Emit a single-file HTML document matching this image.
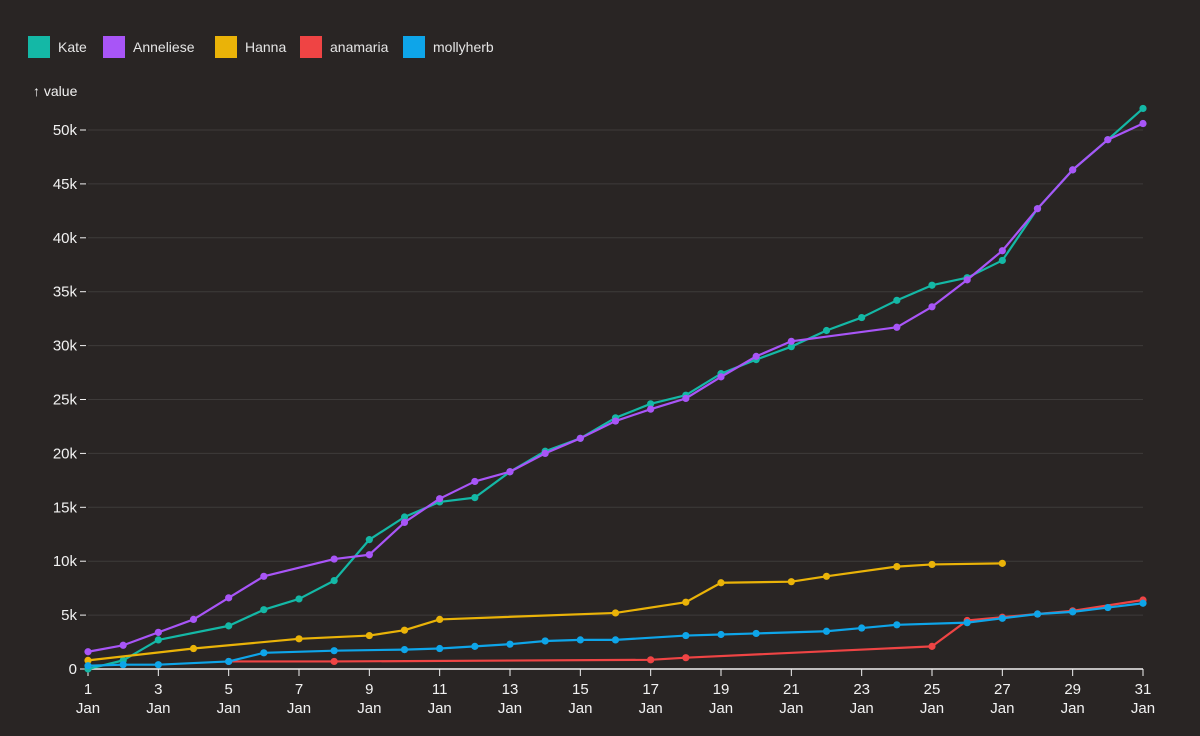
<!DOCTYPE html>
<html><head><meta charset="utf-8"><style>
html,body{margin:0;padding:0;background:#292524;}
svg{display:block;font-family:"Liberation Sans",sans-serif;}
</style></head><body>
<svg id="chart" width="1200" height="736" viewBox="0 0 1200 736" xmlns="http://www.w3.org/2000/svg">
<rect width="1200" height="736" fill="#292524"/>
<g id="legend"></g>
<text x="33" y="96" fill="#f2f2f2" font-size="14">↑ value</text>
<g id="grid"></g><g id="axes"></g><g id="series"></g>
</svg>
<script>
const days = [];
for (let d = 1; d <= 31; d++) days.push(d);
const seriesNames = ["Kate","Anneliese","Hanna","anamaria","mollyherb"];
const seriesColors = ["#14b8a6","#a855f7","#eab308","#ef4444","#0ea5e9"];
const kateDays = [1,2,3,5,6,7,8,9,10,11,12,13,14,15,16,17,18,19,20,21,22,23,24,25,26,27,28,29,30,31];
const kateVals = [0,800,2700,4000,5500,6500,8200,12000,14100,15500,15900,18300,20200,21400,23300,24600,25400,27400,28700,29900,31400,32600,34200,35600,36300,37900,42700,46300,49100,52000];
const annDays = [1,2,3,4,5,6,8,9,10,11,12,13,14,15,16,17,18,19,20,21,24,25,26,27,28,29,30,31];
const annVals = [1600,2200,3400,4600,6600,8600,10200,10600,13600,15800,17400,18300,20000,21400,23000,24100,25100,27100,29000,30400,31700,33600,36100,38800,42700,46300,49100,50600];
const hannaDays = [1,4,7,9,10,11,16,18,19,21,22,24,25,27];
const hannaVals = [800,1900,2800,3100,3600,4600,5200,6200,8000,8100,8600,9500,9700,9800];
const anaDays = [5,8,17,18,25,26,27,28,29,31];
const anaVals = [700,700,850,1050,2100,4500,4800,5100,5400,6400];
const mollyDays = [1,2,3,5,6,8,10,11,12,13,14,15,16,18,19,20,22,23,24,26,27,28,29,30,31];
const mollyVals = [300,400,400,700,1500,1700,1800,1900,2100,2300,2600,2700,2700,3100,3200,3300,3500,3800,4100,4300,4700,5100,5300,5700,6100];
const yTicks = [0,5000,10000,15000,20000,25000,30000,35000,40000,45000,50000];
const yTickLabels = ["0","5k","10k","15k","20k","25k","30k","35k","40k","45k","50k"];
const xTicks = [1,3,5,7,9,11,13,15,17,19,21,23,25,27,29,31];

const NS="http://www.w3.org/2000/svg";
const X0=88,X1=1143,Y0=669,Y1=130;
const x = d => X0 + (d-1)*(X1-X0)/30;
const y = v => Y0 - v*(Y0-Y1)/50000;
function mk(tag, attrs, parent){const e=document.createElementNS(NS,tag);for(const k in attrs)e.setAttribute(k,attrs[k]);parent.appendChild(e);return e;}
const grid=document.getElementById('grid'),axes=document.getElementById('axes'),ser=document.getElementById('series'),leg=document.getElementById('legend');

// legend
let lx=28;
const legW=[75,112,85,103,110];
seriesNames.forEach((n,i)=>{
  const g=mk('g',{},leg);
  
  
  mk('rect',{x:lx,y:36,width:22,height:22,fill:seriesColors[i]},g);
  const t=mk('text',{x:lx+30,y:52,fill:'#e5e5e5','font-size':14},g);t.textContent=n;
  lx+=legW[i]+ (i==0?0:0);
});

yTicks.forEach((v,i)=>{
  if(v>0){const gl=mk('line',{x1:X0,x2:X1,y1:y(v),y2:y(v),stroke:'#ffffff','stroke-opacity':0.1},grid);
  }
  mk('line',{x1:X0-8,x2:X0-2,y1:y(v),y2:y(v),stroke:'#f2f2f2'},axes);
  const t=mk('text',{x:X0-11,y:y(v)+5,fill:'#f2f2f2','font-size':15,'text-anchor':'end'},axes);
  t.textContent=yTickLabels[i];
  
  
});
const xa=mk('line',{x1:X0,x2:X1,y1:Y0,y2:Y0,stroke:'#f2f2f2','stroke-width':1.5},axes);

xTicks.forEach(d=>{
  mk('line',{x1:x(d),x2:x(d),y1:Y0,y2:Y0+7,stroke:'#f2f2f2'},axes);
  const t=mk('text',{x:x(d),y:Y0+25,fill:'#f2f2f2','font-size':15,'text-anchor':'middle'},axes);
  t.textContent=d;
  
  
  const t2=mk('text',{x:x(d),y:Y0+44,fill:'#f2f2f2','font-size':15,'text-anchor':'middle'},axes);
  t2.textContent='Jan';
  
  
});

const allD=[kateDays,annDays,hannaDays,anaDays,mollyDays];
const allV=[kateVals,annVals,hannaVals,anaVals,mollyVals];
allD.forEach((ds,i)=>{
  const g=mk('g',{},ser);
  
  
  const pts=ds.map((d,j)=>x(d)+','+y(allV[i][j])).join(' ');
  const pl=mk('polyline',{points:pts,fill:'none',stroke:seriesColors[i],'stroke-width':2.2,'stroke-linejoin':'round'},g);
  
  
  ds.forEach((d,j)=>{
    const c=mk('circle',{cx:x(d),cy:y(allV[i][j]),r:3.6,fill:seriesColors[i]},g);
    
    
  });
});
</script>
</body></html>
